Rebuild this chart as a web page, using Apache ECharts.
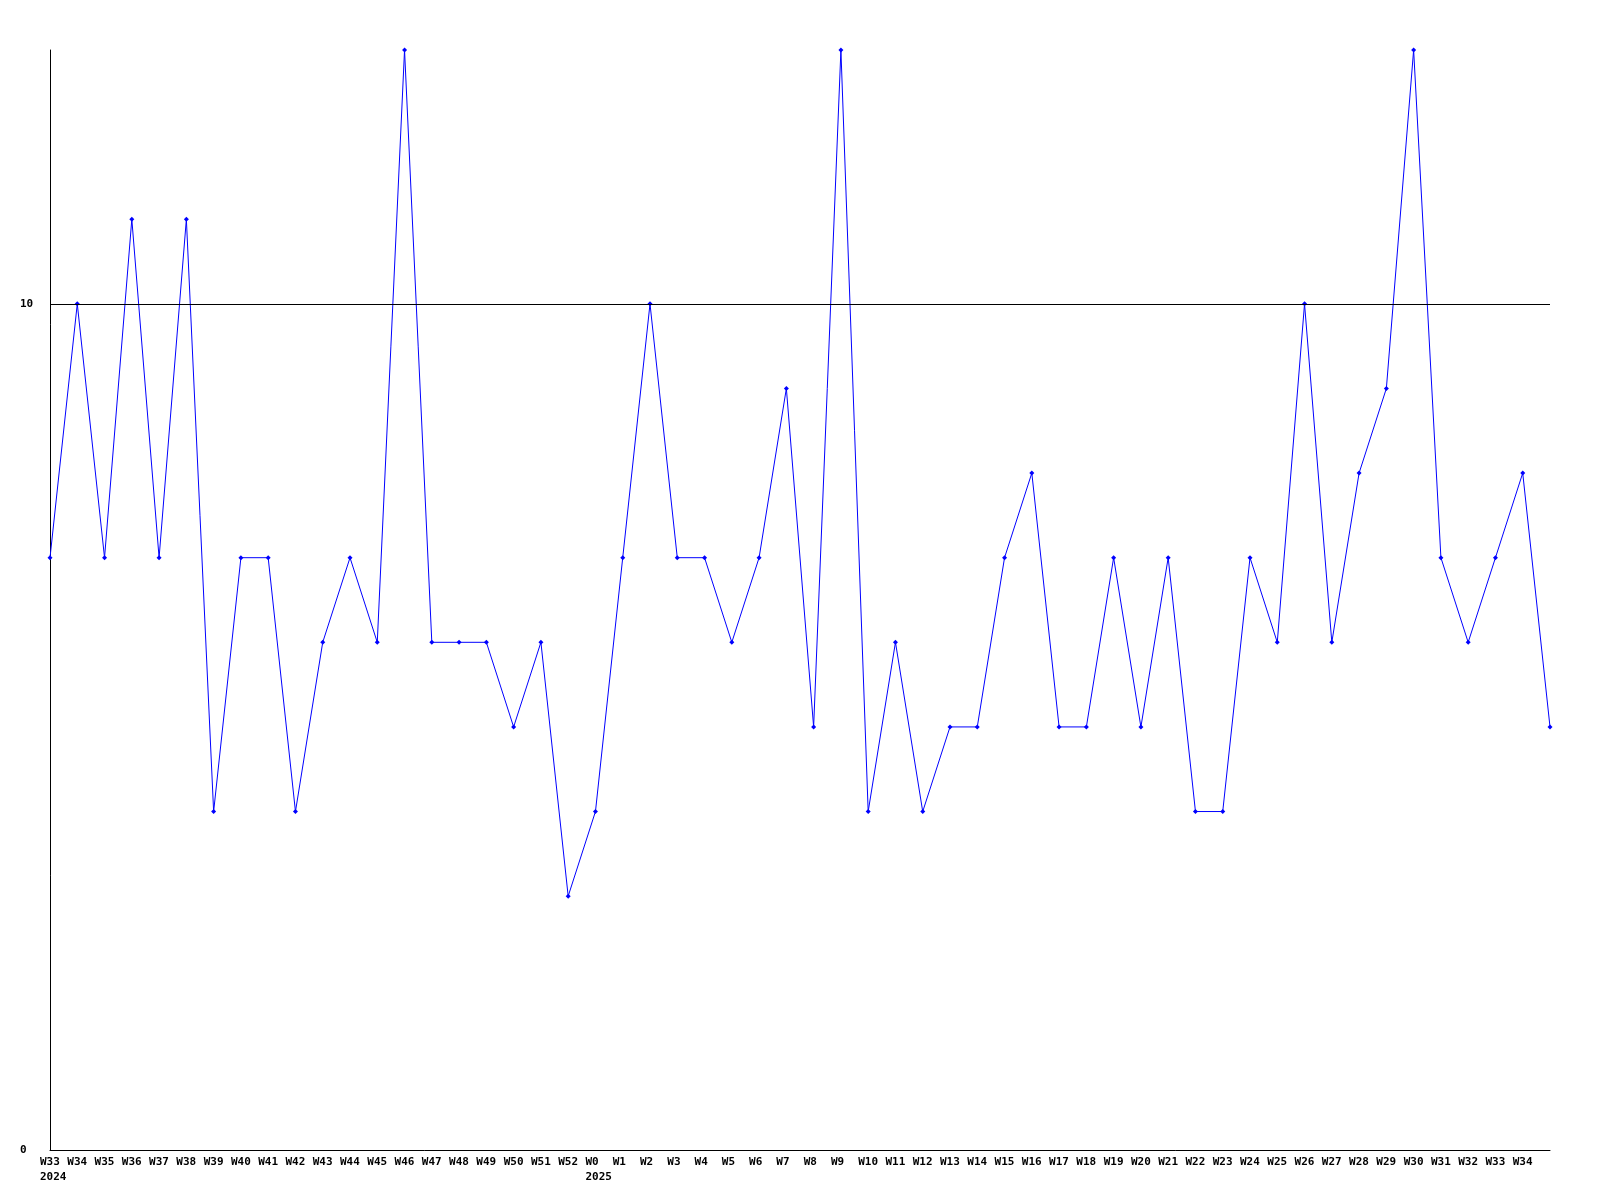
<!DOCTYPE html>
<html>
<head>
<meta charset="utf-8">
<script src="https://cdn.jsdelivr.net/npm/echarts@6/dist/echarts.min.js"></script>
<style>html,body{margin:0;padding:0;background:#fff}#c{width:1600px;height:1200px}</style>
</head>
<body>
<div id="c"></div>
<script>
const weeks = ['W33\n2024','W34','W35','W36','W37','W38','W39','W40','W41','W42','W43','W44','W45','W46','W47','W48','W49','W50','W51','W52',
  'W0\n2025','W1','W2','W3','W4','W5','W6','W7','W8','W9','W10','W11','W12','W13','W14','W15','W16','W17','W18','W19','W20',
  'W21','W22','W23','W24','W25','W26','W27','W28','W29','W30','W31','W32','W33','W34',''];
const values = [7,10,7,11,7,11,4,7,7,4,6,7,6,13,6,6,6,5,6,3,
  4,7,10,7,7,6,7,9,5,13,4,6,4,5,5,7,8,5,5,7,5,
  7,4,4,7,6,10,6,8,9,13,7,6,7,8,5];
const yTicks = [0, 10];
const refLine = 10;

const chart = echarts.init(document.getElementById('c'), null, {renderer:'canvas'});
chart.setOption({
  animation: false,
  backgroundColor: '#fff',
  grid: {left: 50, right: 50, top: 50, bottom: 50, containLabel: false},
  xAxis: {
    type: 'category', data: weeks, boundaryGap: false,
    axisLine: {lineStyle: {color: '#000', width: 1}},
    axisTick: {show: false},
    splitLine: {show: false},
    axisLabel: {
      interval: 0, margin: 5, align: 'left', padding: [0,0,0,-10],
      fontFamily: 'DejaVu Sans Mono', fontWeight: 'bold', fontSize: 11, lineHeight: 15, color: '#000'
    }
  },
  yAxis: {
    type: 'value', min: 0, max: 13, interval: 10,
    axisLine: {show: true, lineStyle: {color: '#000', width: 1}},
    axisTick: {show: false},
    splitLine: {show: false},
    axisLabel: {
      margin: 30, align: 'left', showMaxLabel: false,
      formatter: v => yTicks.includes(v) ? String(v) : '',
      fontFamily: 'DejaVu Sans Mono', fontWeight: 'bold', fontSize: 11, color: '#000'
    }
  },
  series: [{
    type: 'line', data: values,
    lineStyle: {color: '#0000ff', width: 1},
    itemStyle: {color: '#0000ff'},
    symbol: 'diamond', symbolSize: 5, showSymbol: true,
    markLine: {
      silent: true, symbol: 'none', label: {show: false},
      lineStyle: {color: '#000', width: 1, type: 'solid'},
      data: [{yAxis: refLine}]
    },
    z: 3
  }]
});
</script>
</body>
</html>
